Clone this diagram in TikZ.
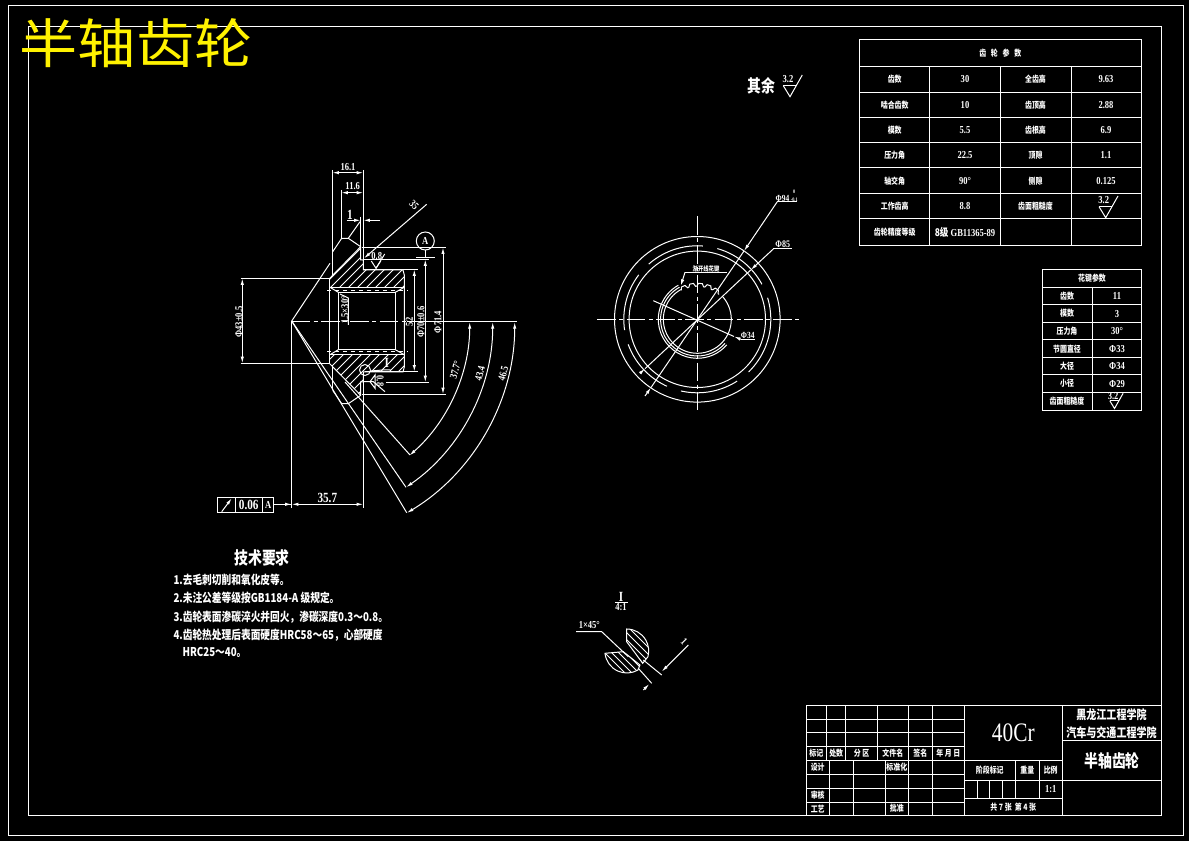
\documentclass[tikz,border=0pt]{standalone}
\usepackage{fontspec}
\setmainfont{Liberation Serif}[FakeStretch=0.8]
\newfontfamily\cjk{Noto Sans CJK SC}[FakeStretch=0.8]
\newfontfamily\cjkhead{Noto Sans CJK SC}[FakeStretch=1.09]
\usetikzlibrary{arrows.meta}
\tikzset{
  centerln/.style={dash pattern={on 14pt off 2.5pt on 3pt off 2.5pt}},
  halfup/.style={},
  halfdown/.style={shift={(0,642)},yscale=-1},
  dimtxt/.style={inner sep=0.75pt,font=\bfseries\fontsize{8}{8}\selectfont},
  bigdim/.style={inner sep=0.75pt,font=\bfseries\fontsize{10.5}{10}\selectfont},
  cell/.style={inner sep=0.75pt,font=\cjk\bfseries\fontsize{6.5}{7}\selectfont},
  num/.style={inner sep=0.75pt,font=\bfseries\fontsize{8}{8}\selectfont},
  note/.style={anchor=west,inner sep=0.75pt,font=\cjk\bfseries\fontsize{9.1}{10}\selectfont},
  bighead/.style={inner sep=0.75pt,font=\cjk\bfseries\fontsize{13}{13}\selectfont},
  rough/.pic={
    \draw (-6.7,11) -- (0,0) -- (12.3,21.7) ;
    \draw (-6.7,11) -- (6,11) ;
    \draw (-2,17.2) node [num] (-v) {\tikzpictext};
  }
}
\begin{document}
\begin{tikzpicture}[x=0.75pt,y=0.75pt,yscale=-1,color=white,line width=0.75pt,>={Latex[length=5pt,width=2.5pt]}]
\fill [black] (0,0) rectangle (1189,841) ;
\useasboundingbox (0,0) rectangle (1189,841) ;

\draw (8.5,6) rectangle (1183,835) ;
\draw (28.5,26.5) rectangle (1161,815) ;
\draw (136,43) node [inner sep=0pt,text=yellow,font=\cjkhead\fontsize{40}{40}\selectfont] (bigname) {半轴齿轮};

\draw (859.5,40) rectangle (1141,246) ;
\foreach \y in {66.5,92.5,117.5,143,168,194,219} {\draw (859.5,\y) -- (1141,\y) ;}
\foreach \x in {929.5,1000,1071} {\draw (\x,66.5) -- (\x,246) ;}
\draw (1000.3,53) node [cell] (geartitle) {齿\ \ \ 轮\ \ \ 参\ \ \ 数};
\foreach \i/\y/\ta/\tb/\tc/\td in {1/79.5/齿数/30/全齿高/9.63,2/105/啮合齿数/10/齿顶高/2.88,3/130.3/模数/5.5/齿根高/6.9,4/155.5/压力角/22.5/顶隙/1.1,5/181/轴交角/90°/侧隙/0.125} {
  \draw (894.7,\y) node [cell] (gear\i a) {\ta};
  \draw (965,\y) node [num] (gear\i b) {\tb};
  \draw (1035.5,\y) node [cell] (gear\i c) {\tc};
  \draw (1106,\y) node [num] (gear\i d) {\td};
}
\draw (894.7,206.5) node [cell] (gear6a) {工作齿高};
\draw (965,206.5) node [num] (gear6b) {8.8};
\draw (1035.5,206.5) node [cell] (gear6c) {齿面粗糙度};
\pic (roughg) [pic text=3.2] at (1105.7,217.7) {rough};
\draw (894.7,232.5) node [cell] (gear7a) {齿轮精度等级};
\draw (965,232.5) node [num] (gear7b) {{\cjk 8级} GB11365-89};

\draw (1042.3,269.7) rectangle (1141.7,410.3) ;
\foreach \y in {287.3,305,322.3,340,357.3,375,392.3} {\draw (1042.3,\y) -- (1141.7,\y) ;}
\draw (1092.3,287.3) -- (1092.3,410.3) ;
\draw (1092,278.5) node [cell] (splinetitle) {花键参数};
\foreach \i/\y/\ta/\tb in {1/296/齿数/11,2/313.7/模数/3,3/331/压力角/30°,4/348.7/节圆直径/Φ33,5/366/大径/Φ34,6/383.7/小径/Φ29} {
  \draw (1067,\y) node [cell] (spline\i a) {\ta};
  \draw (1117,\y) node [num] (spline\i b) {\tb};
}
\draw (1067,401.3) node [cell] (spline7a) {齿面粗糙度};
\pic (roughs) [pic text=3.2,scale=0.7] at (1114.5,408.5) {rough};

\draw (761,86) node [bighead] (others) {其余};
\pic (roughr) [pic text=3.2] at (790,96.7) {rough};

\foreach \y in {719.3,732.3,746.7,760.3,774.3,788.3,802} {\draw (806,\y) -- (964.3,\y) ;}
\draw (806,705.7) rectangle (1161,815.3) ;
\foreach \x in {826.7,845.7,877.3,908.3,932.3} {\draw (\x,705.7) -- (\x,760.3) ;}
\foreach \x in {829.3,853.3,885.3,908.3,932.3} {\draw (\x,760.3) -- (\x,815.3) ;}
\draw (964.3,705.7) -- (964.3,815.3) ;
\draw (1062.3,705.7) -- (1062.3,815.3) ;
\draw (964.3,760.3) -- (1062.3,760.3) ;
\draw (964.3,780) -- (1161,780) ;
\draw (964.3,798.7) -- (1062.3,798.7) ;
\draw (1062.3,740.7) -- (1161,740.7) ;
\foreach \x in {1015.3,1039.3} {\draw (\x,760.3) -- (\x,798.7) ;}
\foreach \x in {977.3,989.7,1002.3} {\draw (\x,780) -- (\x,798.7) ;}
\foreach \i/\x/\t in {1/816.3/标记,2/836.2/处数,3/861.5/分\ 区,4/892.8/文件名,5/920.3/签名,6/948.3/年\ 月\ 日} {
  \draw (\x,753.5) node [cell] (head\i) {\t};
}
\draw (817.7,767.3) node [cell] (design) {设计};
\draw (896.8,767.3) node [cell] (standard) {标准化};
\draw (817.7,795.2) node [cell] (audit) {审核};
\draw (817.7,808.7) node [cell] (craft) {工艺};
\draw (896.8,808.7) node [cell] (approve) {批准};
\draw (1013.3,733) node [inner sep=0pt,font=\fontsize{20}{20}\selectfont] (material) {40Cr};
\draw (989.8,770) node [cell] (stage) {阶段标记};
\draw (1027.3,770) node [cell] (weight) {重量};
\draw (1050.7,770) node [cell] (ratio) {比例};
\draw (1050.7,789.4) node [num] (ratiov) {1:1};
\draw (1013.3,807) node [cell] (sheets) {共\ 7\ 张\ \ 第\ 4\ 张};
\draw (1111.5,715) node [inner sep=0.75pt,font=\cjk\bfseries\fontsize{9.4}{10}\selectfont] (school) {黑龙江工程学院};
\draw (1111.5,732.7) node [inner sep=0.75pt,font=\cjk\bfseries\fontsize{9.4}{10}\selectfont] (college) {汽车与交通工程学院};
\draw (1112,761) node [bighead] (partname) {半轴齿轮};

\draw (262,558) node [bighead] (techhead) {技术要求};
\draw (172,580) node [note] (tech1) {1.去毛刺切削和氧化皮等。};
\draw (172,598) node [note] (tech2) {2.未注公差等级按GB1184-A 级规定。};
\draw (172,617) node [note] (tech3) {3.齿轮表面渗碳淬火并回火，渗碳深度0.3～0.8。};
\draw (172,635) node [note] (tech4) {4.齿轮热处理后表面硬度HRC58～65，心部硬度};
\draw (181,652) node [note] (tech5) {HRC25～40。};

\foreach \half in {halfup,halfdown} {
\begin{scope}[\half]
\draw (329.7,321) -- (329.7,278.3) ;
\draw (330,287.3) -- (404.3,287.3) ;
\draw [dashed] (327.3,290.3) -- (407.7,290.3) ;
\draw (338.3,321) -- (338.3,292.3) -- (395.3,292.3) -- (395.3,321) ;
\draw (330,287.3) -- (338.3,292.3) ;
\draw (395.3,292.3) -- (404.3,287.3) ;
\draw (404.3,321) -- (404.3,275) -- (403,270) -- (363.3,270) -- (363.3,260) -- (360.7,260) -- (360.7,246.7) -- (348.3,238.3) -- (341.7,238.3) -- (332.7,251.7) ;
\draw (329.7,278.3) -- (360.7,246.7) ;
\draw (332.3,251.7) -- (332.3,276) ;
\end{scope}
}
\begin{scope}
\clip (330,287.3) -- (330,278.3) -- (360.7,246.7) -- (360.7,260) -- (363.3,260) -- (363.3,270) -- (403,270) -- (404.7,275) -- (404.7,287.3) -- cycle ;
\foreach \c in {600,609,...,700} {\draw (\c-200,200) -- (\c-400,400) ;}
\end{scope}
\begin{scope}
\clip (330,354.7) -- (330,363.7) -- (360.7,395.3) -- (360.7,382) -- (363.3,382) -- (363.3,372) -- (403,372) -- (404.7,367) -- (404.7,354.7) -- cycle ;
\foreach \c in {680,689,...,790} {\draw (\c-200,200) -- (\c-400,400) ;}
\end{scope}

\draw [centerln] (291.7,321.7) -- (407,321.7) ;
\draw (407,321.7) -- (516.7,321.7) ;

\draw (291.7,321) -- (330,263.3) ;
\draw (348.3,238.3) -- (360,221.7) ;
\draw (291.7,321) -- (406.7,512.7) ;
\draw (291.7,321) -- (406,487.3) ;
\draw (345,382) -- (410,455) ;
\draw (291.7,321) -- (291.7,507.7) ;
\draw (363.3,382) -- (363.3,507.7) ;
\draw (360.7,382) -- (360.7,395) ;

\draw (240.7,278.3) -- (329.7,278.3) ;
\draw (240.7,363.3) -- (329.7,363.3) ;
\draw [<->] (242.3,278.3) -- (242.3,363.3) ;
\draw (239,322) node [dimtxt,rotate=90] (d43) {Φ43±0.5};

\draw (332.3,170) -- (332.3,251.7) ;
\draw (363.3,170) -- (363.3,260) ;
\draw [<->] (332.3,172.7) -- (363.3,172.7) ;
\draw (348,167) node [dimtxt] (d161) {16.1};
\draw (341.3,190) -- (341.3,238.3) ;
\draw [<->] (341.3,192.7) -- (363.3,192.7) ;
\draw (352.7,186.5) node [dimtxt] (d116) {11.6};
\draw (360.7,216.7) -- (360.7,246.7) ;
\draw [->] (346.7,220.3) -- (360.7,220.3) ;
\draw [->] (380,220.3) -- (363.3,220.3) ;
\draw (350,215) node [bigdim] (d1) {1};
\draw [->] (426.7,204.3) -- (364,258.3) ;
\draw (414,205) node [dimtxt,rotate=-45] (d35) {35};

\draw (425.3,241) circle (9) node [dimtxt] (datuma) {A};
\draw (425.3,250) -- (425.3,257.3) ;
\draw (416,257.3) -- (435,257.3) ;

\draw (361.7,247.3) -- (445.7,247.3) ;
\draw (361.7,394.3) -- (445.7,394.3) ;
\draw [<->] (443,247.3) -- (443,394.3) ;
\draw (438,322) node [dimtxt,rotate=90] (d714) {Φ71.4};
\draw (363.3,259.3) -- (429,259.3) ;
\draw (386,382.3) -- (429,382.3) ;
\draw [<->] (425.3,259.3) -- (425.3,382.3) ;
\draw (421,322) node [dimtxt,rotate=90] (d70) {Φ70±0.6};
\draw (363.3,269.3) -- (417.7,269.3) ;
\draw (365,371.7) -- (417.7,371.7) ;
\draw [<->] (414.3,269.3) -- (414.3,371.7) ;
\draw (409.5,322) node [dimtxt,rotate=90] (d52) {52};

\draw (371.3,261) -- (376,268.3) -- (384.7,254) ;
\draw (380.7,261) -- (376,268.3) ;
\draw (376.7,256) node [dimtxt] (rough08a) {0.8};
\draw (363.3,381.7) -- (373.3,381.7) -- (385,391.7) ;
\draw (375,375) -- (370,381.7) -- (375,388.3) -- cycle ;
\draw (380,381) node [dimtxt,rotate=-90] (rough08b) {0.8};
\draw (365,370) circle (5.5) ;
\draw (370.5,371) -- (382.7,370) -- (390.7,370) ;
\draw (386.7,363) node [bigdim] (mark1) {I};

\draw (340,294) -- (348.3,298) -- (348.3,325) ;
\draw (345,310) node [dimtxt,rotate=90] (chamfer) {1.5×30°};

\draw [<->] (469.7,322) arc [start angle=0,end angle=48.6,radius=178] ;
\draw [<->] (492.7,322) arc [start angle=0,end angle=55.3,radius=201] ;
\draw [<->] (514.7,322) arc [start angle=0,end angle=58.9,radius=223] ;
\draw (455.5,370) node [dimtxt,rotate=75] (d377) {37.7°};
\draw (480,373.3) node [dimtxt,rotate=75] (d434) {43.4};
\draw (503.3,373.3) node [dimtxt,rotate=75] (d465) {46.5};

\draw (273.3,504.3) -- (291.7,504.3) ;
\draw [->] (279,504.3) -- (291.7,504.3) ;
\draw [<->] (291.7,504.3) -- (363.3,504.3) ;
\draw (327.3,498) node [bigdim] (d357) {35.7};
\draw (217.3,497.3) rectangle (273.3,512.7) ;
\draw (235.3,497.3) -- (235.3,512.7) ;
\draw (262.3,497.3) -- (262.3,512.7) ;
\draw [->] (221.7,511.7) -- (231.7,498.3) ;
\draw (248.7,505) node [bigdim] (runout) {0.06};
\draw (268.3,505) node [dimtxt] (runouta) {A};

\draw [centerln] (597.3,319.3) -- (802.3,319.3) ;
\draw [centerln] (697.3,216) -- (697.3,410) ;
\draw (697.3,319.3) circle (82.8) ;
\draw (697.3,319.3) circle (68.2) ;
\draw [dash pattern={on 44pt off 11pt}] (697.3,319.3) circle (73.5) ;
\draw (697.3,319.3) ++(-41:34) arc [start angle=-41,end angle=241,radius=34] ;
\draw (697.3,319.3) ++(-119:36.7) arc [start angle=-119,end angle=-319,radius=36.7] ;
\draw (697.3,319.3) ++(-119:39) arc [start angle=-119,end angle=-319,radius=39] ;
\foreach \a in {-119,-105,...,-50} {
  \draw [shift={(697.3,319.3)}] (\a:33) -- (\a+3:36) -- (\a+9:36) -- (\a+12:33) -- (\a+14:33) ;
}
\draw [->] (777.3,201.7) -- (744,251) ;
\draw [->] (645,396) -- (651,387.5) ;
\draw (744,251) -- (651,387.5) ;
\draw (777.3,201.7) -- (797.3,201.7) ;
\draw (786.7,196) node [inner sep=0.75pt,font=\bfseries\fontsize{7}{6}\selectfont] (d94) {Φ94\,\fontsize{4}{4}\selectfont\shortstack{0\\-0.1}};
\draw [->] (773.3,249) -- (750.7,270) ;
\draw [->] (640,373.3) -- (645,368.7) ;
\draw (750.7,270) -- (645,368.7) ;
\draw (773.3,249) -- (791.7,249) ;
\draw (782.7,244) node [dimtxt,font=\bfseries\fontsize{7.5}{6}\selectfont] (d85) {Φ85};
\draw (653.3,300.7) -- (734,336.5) ;
\draw [->] (740.7,339.3) -- (734,336.5) ;
\draw (740.7,339.3) -- (755,339.3) ;
\draw (747.7,335) node [dimtxt,font=\bfseries\fontsize{7}{6}\selectfont] (d34) {Φ34};
\draw [->] (685,272.3) -- (680.7,286) ;
\draw (685,272.3) -- (726.7,272.3) ;
\draw (706,268.5) node [inner sep=0.75pt,font=\cjk\bfseries\fontsize{5}{6}\selectfont] (splinetag) {渐开线花键};

\draw (621,597) node [bigdim] (detaili) {I};
\draw (615,602.3) -- (628.3,602.3) ;
\draw (621,607.5) node [num] (detailr) {4:1};
\draw (589.3,625.5) node [dimtxt] (d145) {1×45°};
\draw (576,631.7) -- (601.7,631.7) -- (628.3,656.7) ;
\draw (626.7,629) arc [start angle=-90,end angle=15,radius=22] -- (642.7,663.3) -- (626.7,641.7) -- cycle ;
\draw (605,653.3) arc [start angle=174,end angle=60,radius=22] -- (640,665) -- (623.3,651.7) -- cycle ;
\begin{scope}
\clip (626.7,629) arc [start angle=-90,end angle=15,radius=22] -- (642.7,663.3) -- (626.7,641.7) -- cycle ;
\foreach \c in {-48,-41,...,6} {\draw (\c+600,600) -- (\c+700,700) ;}
\end{scope}
\begin{scope}
\clip (605,653.3) arc [start angle=174,end angle=60,radius=22] -- (640,665) -- (623.3,651.7) -- cycle ;
\foreach \c in {-48,-41,...,6} {\draw (\c+600,600) -- (\c+700,700) ;}
\end{scope}
\draw (643.3,660) -- (661.7,675) ;
\draw (638.3,668.3) -- (651.7,683.3) ;
\draw [->] (688.3,645) -- (661.7,671.6) ;
\draw [->] (643.3,690) -- (649.3,684) ;
\draw (684,641.5) node [dimtxt,rotate=-45] (d1b) {1};
\end{tikzpicture}
\end{document}
